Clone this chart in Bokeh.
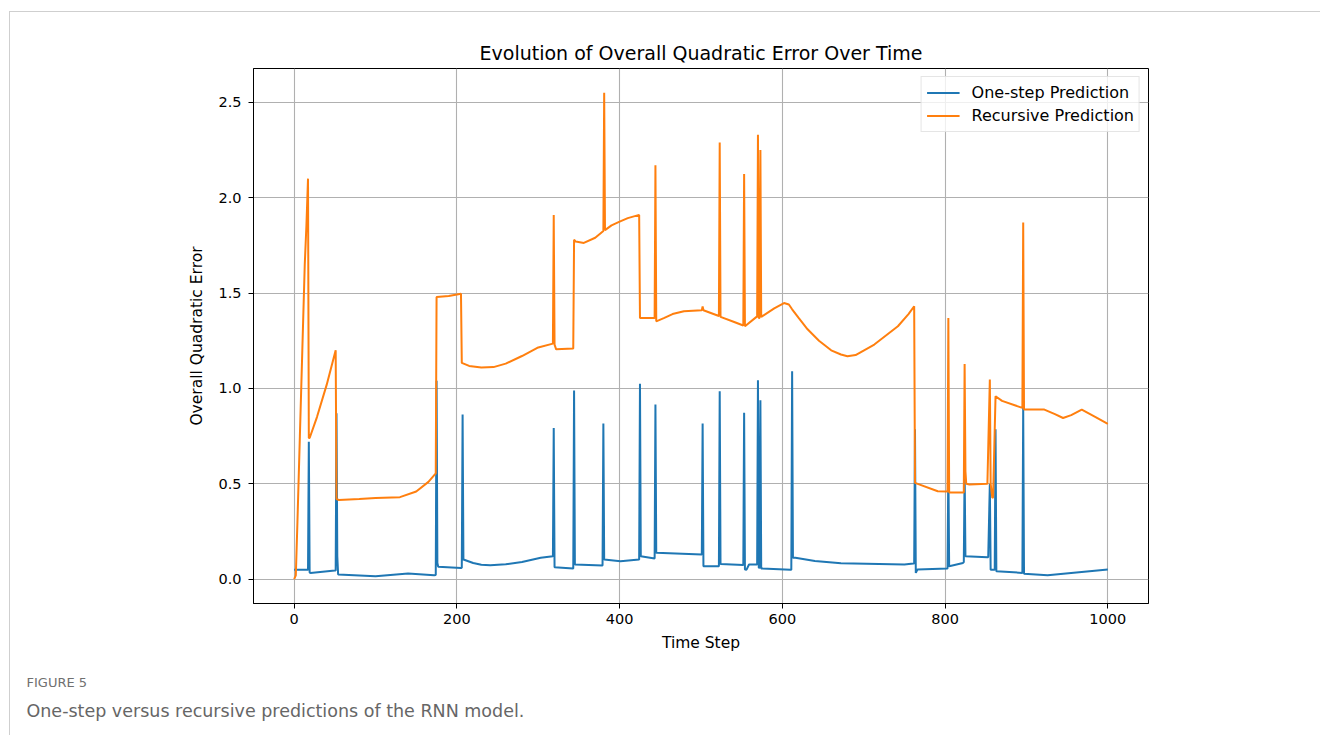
from bokeh.plotting import figure
from bokeh.models import Range1d, FixedTicker, Legend, LegendItem, Title
from bokeh.embed import file_html
from bokeh.resources import INLINE

# ---------------- data ----------------
title_text = "Evolution of Overall Quadratic Error Over Time"
x_label = "Time Step"
y_label = "Overall Quadratic Error"
series_names = ["One-step Prediction", "Recursive Prediction"]
caption_head = "FIGURE 5"
caption_text = "One-step versus recursive predictions of the RNN model."

x_ticks = [0, 200, 400, 600, 800, 1000]
y_ticks = [0.0, 0.5, 1.0, 1.5, 2.0, 2.5]
y_tick_labels = ["0.0", "0.5", "1.0", "1.5", "2.0", "2.5"]

# One-step prediction (vertices of the polyline: time step, error)
onestep_t = [0, 17, 18, 19, 20, 50, 51, 52, 53, 54, 100, 140, 172, 174, 175, 176, 177,
             205, 206, 207, 208, 220, 230, 241, 260, 280, 303, 318, 319, 320, 343, 344,
             345, 379, 380, 381, 401, 424, 425, 426, 443, 444, 445, 501, 502, 503, 522,
             523, 524, 552, 553, 554, 556, 559, 569, 570, 571, 572, 573, 574, 610, 611,
             612, 613, 616, 640, 672, 750, 761, 762, 763, 764, 766, 803, 804, 805, 822,
             823, 824, 825, 852, 853, 855, 856, 859, 861, 862, 863, 895, 896, 897, 926,
             1000]
onestep_v = [0.05, 0.05, 0.72, 0.035, 0.033, 0.045, 0.045, 0.87, 0.12, 0.025, 0.016, 0.03,
             0.021, 0.022, 1.04, 0.085, 0.065, 0.059, 0.06, 0.863, 0.103, 0.085, 0.076,
             0.073, 0.078, 0.09, 0.112, 0.12, 0.793, 0.063, 0.056, 0.989, 0.077, 0.072,
             0.816, 0.103, 0.094, 0.103, 1.024, 0.12, 0.108, 0.916, 0.138, 0.129, 0.816,
             0.068, 0.068, 0.985, 0.08, 0.075, 0.872, 0.051, 0.05, 0.077, 0.077, 1.043,
             0.06, 0.06, 0.938, 0.056, 0.05, 0.05, 1.09, 0.112, 0.112, 0.095, 0.083,
             0.077, 0.082, 0.082, 0.786, 0.033, 0.051, 0.056, 0.6, 0.068, 0.085, 0.09,
             0.57, 0.12, 0.115, 0.115, 0.5, 0.05, 0.05, 0.05, 0.786, 0.042, 0.033, 0.9,
             0.028, 0.021, 0.051]

# Recursive prediction
recursive_t = [0, 2, 4, 7, 10, 13, 15, 17, 18, 19, 28, 40, 51, 52, 55, 80, 100, 130, 150,
               165, 174, 175, 190, 205, 206, 215, 230, 245, 260, 280, 300, 318, 319, 320,
               322, 343, 344, 346, 356, 370, 380, 381, 382, 390, 400, 410, 424, 425, 443,
               444, 445, 455, 465, 479, 501, 502, 503, 522, 523, 524, 540, 552, 553, 554,
               569, 570, 571, 572, 573, 574, 575, 590, 602, 608, 612, 620, 631, 645, 660,
               672, 680, 690, 713, 742, 755, 762, 763, 791, 803, 804, 805, 823, 824, 825,
               826, 830, 852, 855, 856, 858, 859, 862, 870, 895, 896, 897, 922, 935, 945,
               955, 968, 985, 1000]
recursive_v = [0.0, 0.02, 0.3, 0.75, 1.2, 1.65, 1.85, 2.1, 0.74, 0.74, 0.85, 1.02, 1.2,
               0.42, 0.415, 0.42, 0.425, 0.43, 0.46, 0.51, 0.555, 1.48, 1.485, 1.497, 1.134,
               1.118, 1.11, 1.112, 1.13, 1.17, 1.215, 1.235, 1.91, 1.23, 1.205, 1.21, 1.78,
               1.77, 1.763, 1.79, 1.825, 2.55, 1.83, 1.855, 1.875, 1.893, 1.91, 1.37, 1.37,
               2.17, 1.352, 1.37, 1.39, 1.405, 1.41, 1.43, 1.41, 1.38, 2.29, 1.375, 1.35,
               1.33, 2.124, 1.326, 1.378, 2.33, 1.37, 1.37, 2.25, 1.375, 1.378, 1.42,
               1.448, 1.44, 1.415, 1.37, 1.31, 1.25, 1.2, 1.178, 1.169, 1.175, 1.23, 1.326,
               1.39, 1.431, 0.505, 0.461, 0.46, 1.37, 0.455, 0.455, 1.128, 0.566, 0.5,
               0.496, 0.5, 1.047, 0.5, 0.426, 0.43, 0.959, 0.935, 0.898, 1.87, 0.89, 0.889,
               0.865, 0.845, 0.86, 0.889, 0.85, 0.814]

# ---------------- figure ----------------
FONT = "DejaVu Sans"
p = figure(width=1311, height=724, output_backend="svg", toolbar_location=None,
           x_range=Range1d(-50, 1050), y_range=Range1d(-0.1275, 2.6775),
           min_border_left=243, min_border_right=173, min_border_top=56,
           min_border_bottom=133)
p.margin = (11, 0, 0, 9)
p.styles = {"border-top": "1px solid #cfcfcf", "border-left": "1px solid #cfcfcf"}

p.title.text = title_text
p.title.align = "center"
p.title.text_font = FONT
p.title.text_font_size = "19px"
p.title.text_font_style = "normal"
p.title.text_color = "#000000"
p.title.standoff = 10

p.background_fill_color = "white"
p.border_fill_color = "white"
p.outline_line_color = "black"
p.outline_line_width = 1

for ax in (p.xaxis[0], p.yaxis[0]):
    ax.axis_line_color = "black"
    ax.major_tick_line_color = "black"
    ax.major_tick_out = 5
    ax.major_tick_in = 0
    ax.minor_tick_line_color = None
    ax.major_label_text_font = FONT
    ax.major_label_text_font_size = "14.5px"
    ax.major_label_text_color = "black"
    ax.axis_label_text_font = FONT
    ax.axis_label_text_font_size = "15.5px"
    ax.axis_label_text_font_style = "normal"
    ax.axis_label_text_color = "black"

p.xaxis[0].ticker = FixedTicker(ticks=x_ticks)
p.yaxis[0].ticker = FixedTicker(ticks=y_ticks)
p.yaxis[0].major_label_overrides = {t: s for t, s in zip(y_ticks, y_tick_labels)}
p.xaxis[0].axis_label = x_label
p.yaxis[0].axis_label = y_label
p.xaxis[0].major_label_standoff = 5
p.yaxis[0].major_label_standoff = 7
p.xaxis[0].axis_label_standoff = 7
p.yaxis[0].axis_label_standoff = 9

for g in (p.xgrid[0], p.ygrid[0]):
    g.grid_line_color = "#b0b0b0"
    g.grid_line_width = 1.1

r1 = p.line(onestep_t, onestep_v, line_color="#1f77b4", line_width=2)
r2 = p.line(recursive_t, recursive_v, line_color="#ff7f0e", line_width=2)

legend = Legend(items=[LegendItem(label=series_names[0], renderers=[r1]),
                       LegendItem(label=series_names[1], renderers=[r2])],
                location="top_right")
legend.margin = 8
legend.padding = 5
legend.spacing = 2
legend.glyph_width = 33
legend.glyph_height = 21
legend.label_height = 21
legend.label_standoff = 12
legend.label_text_font = FONT
legend.label_text_font_size = "16px"
legend.label_text_color = "black"
legend.border_line_color = "#cccccc"
legend.border_line_width = 1
legend.background_fill_alpha = 0.8
p.add_layout(legend, "center")

# caption lines placed below the x axis, shifted left to the page margin
cap1 = Title(text=caption_head, align="left", offset=-227, text_font=FONT,
             text_font_size="13px", text_font_style="normal", text_color="#707070",
             standoff=37)
cap2 = Title(text=caption_text, align="left", offset=-227, text_font=FONT,
             text_font_size="17.5px", text_font_style="normal", text_color="#666666",
             standoff=-20)
p.add_layout(cap1, "below")
p.add_layout(cap2, "below")

open("out.html", "w").write(file_html(p, INLINE))
